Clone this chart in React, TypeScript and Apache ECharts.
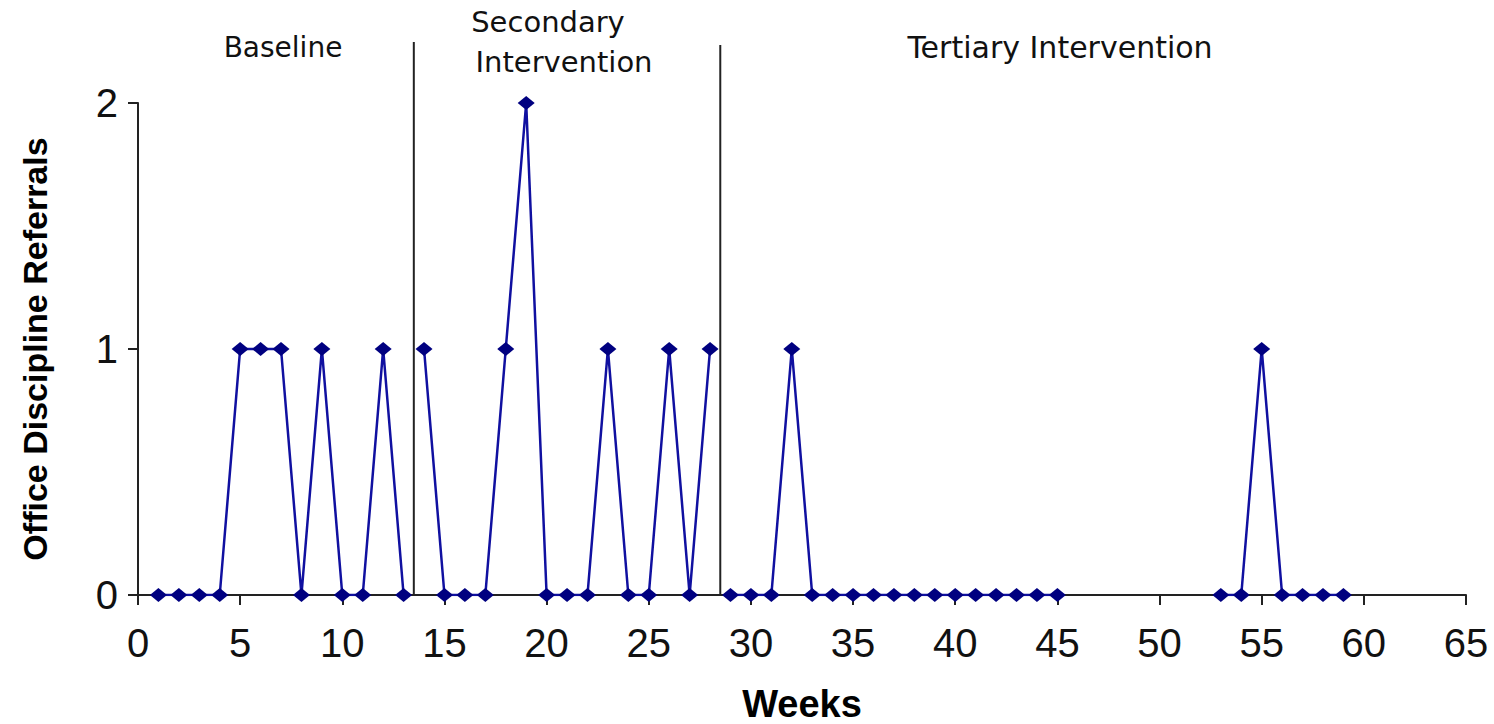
import React, { useEffect, useRef } from "react";
import * as echarts from "echarts";

const baselineWeeks = [1, 2, 3, 4, 5, 6, 7, 8, 9, 10, 11, 12, 13];
const baselineValues = [0, 0, 0, 0, 1, 1, 1, 0, 1, 0, 0, 1, 0];
const secondaryWeeks = [14, 15, 16, 17, 18, 19, 20, 21, 22, 23, 24, 25, 26, 27, 28];
const secondaryValues = [1, 0, 0, 0, 1, 2, 0, 0, 0, 1, 0, 0, 1, 0, 1];
const tertiaryWeeks = [29, 30, 31, 32, 33, 34, 35, 36, 37, 38, 39, 40, 41, 42, 43, 44, 45, 46, 47, 48, 49, 50, 51, 52, 53, 54, 55, 56, 57, 58, 59];
const tertiaryValues: (number | null)[] = [0, 0, 0, 1, 0, 0, 0, 0, 0, 0, 0, 0, 0, 0, 0, 0, 0, null, null, null, null, null, null, null, 0, 0, 1, 0, 0, 0, 0];
const phaseChanges = [13.5, 28.5];
const phaseLabels = ["Baseline", "Secondary", "Intervention", "Tertiary Intervention"];
const xTicks = { min: 0, max: 65, interval: 5 };
const yTicks = { min: 0, max: 2, interval: 1 };

const lineColor = "#1010a0";
const markerColor = "#000080";

function pairs(w: number[], v: (number | null)[]) {
  return w.map((x, i) => [x, v[i]]);
}

export default function App() {
  const ref = useRef<HTMLDivElement>(null);
  useEffect(() => {
    if (!ref.current) return;
    const chart = echarts.init(ref.current, undefined, { renderer: "svg" });
    const seriesBase = {
      type: "line" as const,
      symbol: "diamond",
      symbolSize: [17, 14],
      connectNulls: false,
      lineStyle: { color: lineColor, width: 2.5 },
      itemStyle: { color: markerColor },
    };
    const tickFont = {
      fontFamily: "'Liberation Sans', Arial, sans-serif",
      fontSize: 40,
      color: "#111",
    };
    chart.setOption({
      animation: false,
      grid: { left: 138, right: 28, top: 103, bottom: 129, containLabel: false, outerBoundsMode: "none" },
      xAxis: {
        type: "value",
        min: xTicks.min,
        max: xTicks.max,
        interval: xTicks.interval,
        name: "Weeks",
        nameLocation: "middle",
        nameGap: 90,
        nameTextStyle: {
          fontFamily: "'Liberation Sans', Arial, sans-serif",
          fontWeight: "bold",
          fontSize: 38,
          color: "#000",
        },
        axisLine: { lineStyle: { color: "#222", width: 2 } },
        axisTick: { show: true, length: 10, lineStyle: { color: "#222", width: 2 } },
        axisLabel: { ...tickFont, margin: 28 },
        splitLine: { show: false },
      },
      yAxis: {
        type: "value",
        min: yTicks.min,
        max: yTicks.max,
        interval: yTicks.interval,
        name: "Office Discipline Referrals",
        nameLocation: "middle",
        nameGap: 86,
        nameRotate: 90,
        nameTextStyle: {
          fontFamily: "'Liberation Sans', Arial, sans-serif",
          fontWeight: "bold",
          fontSize: 34,
          color: "#000",
        },
        axisLine: { show: true, lineStyle: { color: "#222", width: 2 } },
        axisTick: { show: true, length: 10, lineStyle: { color: "#222", width: 2 } },
        axisLabel: { ...tickFont, margin: 20 },
        splitLine: { show: false },
      },
      series: [
        { ...seriesBase, data: pairs(baselineWeeks, baselineValues) },
        { ...seriesBase, data: pairs(secondaryWeeks, secondaryValues) },
        { ...seriesBase, data: pairs(tertiaryWeeks, tertiaryValues) },
      ],
    });

    const y0 = chart.convertToPixel({ gridIndex: 0 }, [0, 0])[1];
    const p1 = chart.convertToPixel({ gridIndex: 0 }, [phaseChanges[0], 0])[0];
    const p2 = chart.convertToPixel({ gridIndex: 0 }, [phaseChanges[1], 0])[0];
    const labelFont = "'DejaVu Sans', Verdana, sans-serif";
    const txt = (text: string, x: number, y: number, size: number) => ({
      type: "text",
      x,
      y,
      style: { text, font: `${size}px ${labelFont}`, fill: "#111", align: "center", verticalAlign: "middle" },
    });
    chart.setOption({
      graphic: [
        { type: "line", shape: { x1: p1, y1: 42, x2: p1, y2: y0 }, style: { stroke: "#222", lineWidth: 2 } },
        { type: "line", shape: { x1: p2, y1: 45, x2: p2, y2: y0 }, style: { stroke: "#222", lineWidth: 2 } },
        txt(phaseLabels[0], 283, 47, 28),
        txt(phaseLabels[1], 548, 22, 29),
        txt(phaseLabels[2], 564, 62, 29),
        txt(phaseLabels[3], 1060, 47, 30),
      ],
    });
    return () => chart.dispose();
  }, []);
  return <div ref={ref} style={{ position: "fixed", left: 0, top: 0, width: 1494, height: 724, background: "#fff" }} />;
}
